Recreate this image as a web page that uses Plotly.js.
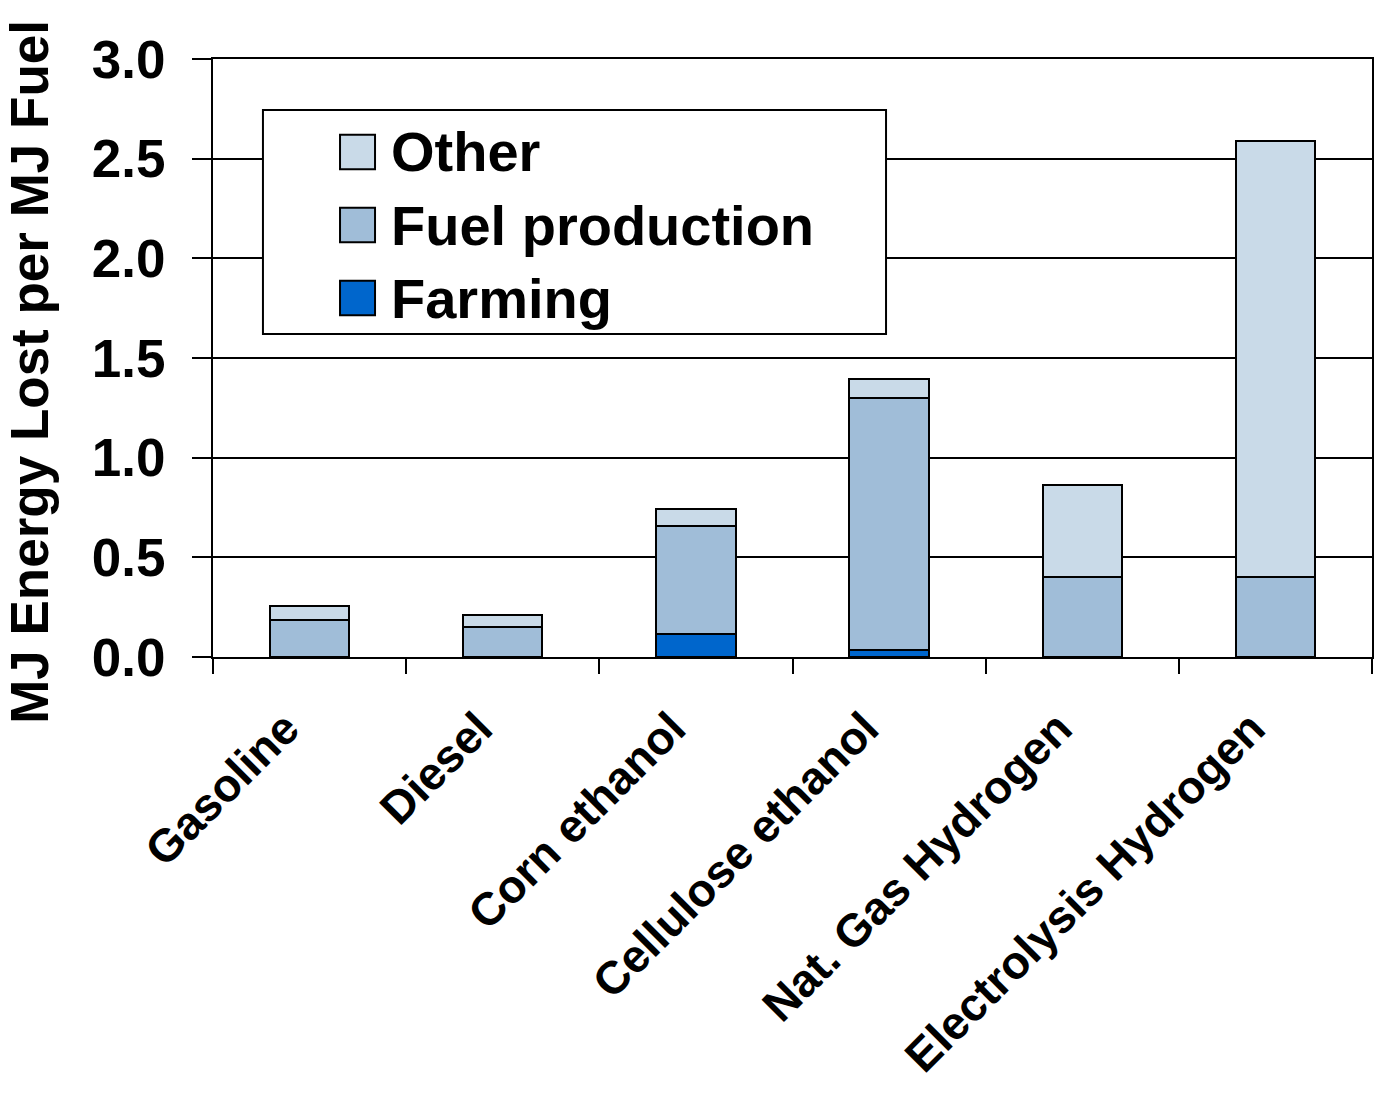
<!DOCTYPE html>
<html>
<head>
<meta charset="utf-8">
<script src="https://cdn.plot.ly/plotly-3.0.1.min.js"></script>
<style>html,body{margin:0;padding:0;background:#fff;}#chart{width:1374px;height:1094px;}</style>
</head>
<body>
<div id="chart"></div>
<script>
const categories = ["Gasoline", "Diesel", "Corn ethanol", "Cellulose ethanol", "Nat. Gas Hydrogen", "Electrolysis Hydrogen"];
const farming = [null, null, 0.115, 0.035, null, null];
const fuelProduction = [0.185, 0.15, 0.54, 1.265, 0.40, 0.40];
const other = [0.07, 0.06, 0.09, 0.095, 0.465, 2.19];
const seriesNames = ["Farming", "Fuel production", "Other"];
const seriesColors = ["#0066CC", "#A0BDD8", "#C9DAE8"];
const yTicks = [0, 0.5, 1.0, 1.5, 2.0, 2.5, 3.0];
const yTitle = "MJ Energy Lost per MJ Fuel";

const FONT = "Liberation Sans, Arial, sans-serif";
const lineStyle = {color: "#000", width: 2};

const traces = [farming, fuelProduction, other].map((vals, i) => ({
  type: "bar",
  name: seriesNames[i],
  x: categories,
  y: vals,
  marker: {color: seriesColors[i], line: lineStyle},
  hoverinfo: "x+y+name"
}));

// Custom legend (paper coordinates of the plot area)
const legendOrder = [2, 1, 0];
const legendY = [0.8445, 0.7224, 0.6003];
const shapes = [{
  type: "rect", xref: "paper", yref: "paper",
  x0: 0.0431, x1: 0.5807, y0: 0.5401, y1: 0.9147,
  line: {color: "#000", width: 2}, fillcolor: "#fff", layer: "above"
}];
const annotations = [];
legendOrder.forEach((si, k) => {
  shapes.push({
    type: "rect", xref: "paper", yref: "paper",
    x0: 0.1096, x1: 0.1398, y0: legendY[k] - 0.029, y1: legendY[k] + 0.029,
    line: {color: "#000", width: 2}, fillcolor: seriesColors[si], layer: "above"
  });
  annotations.push({
    xref: "paper", yref: "paper", x: 0.1515, y: legendY[k],
    xanchor: "left", yanchor: "middle", showarrow: false,
    text: "<b>" + seriesNames[si] + "</b>",
    font: {family: FONT, size: 56, color: "#000"}
  });
});
// Y axis title as annotation so it can sit slightly below the plot centre like the reference
annotations.push({
  xref: "paper", yref: "paper", x: -0.158, y: 0.4766,
  xanchor: "center", yanchor: "middle", showarrow: false, textangle: -90,
  text: "<b>" + yTitle + "</b>",
  font: {family: FONT, size: 53, color: "#000"}
});

const layout = {
  width: 1374, height: 1094,
  margin: {l: 213, r: 2, t: 59, b: 437},
  paper_bgcolor: "#fff", plot_bgcolor: "#fff",
  barmode: "stack",
  bargap: 0.59,
  showlegend: false,
  font: {family: FONT, color: "#000"},
  xaxis: {
    type: "category",
    tickangle: -45,
    tickson: "boundaries",
    ticks: "outside", ticklen: 15, tickwidth: 2, tickcolor: "#000",
    showline: true, linecolor: "#000", linewidth: 2, mirror: true,
    showgrid: false, zeroline: false,
    tickfont: {family: FONT, size: 46, color: "#000", weight: "bold"},
    ticklabelstandoff: 24,
    ticklabelshift: -24,
    automargin: false
  },
  yaxis: {
    range: [0, 3],
    tickvals: yTicks,
    tickformat: ".1f",
    ticks: "outside", ticklen: 19, tickwidth: 2, tickcolor: "#000",
    showline: true, linecolor: "#000", linewidth: 2, mirror: true,
    showgrid: true, gridcolor: "#000", gridwidth: 2,
    zeroline: false,
    tickfont: {family: FONT, size: 53, color: "#000", weight: "bold"},
    ticklabelstandoff: 16,
    automargin: false
  },
  shapes: shapes,
  annotations: annotations
};

Plotly.newPlot("chart", traces, layout, {displayModeBar: false, staticPlot: true});
</script>
</body>
</html>
